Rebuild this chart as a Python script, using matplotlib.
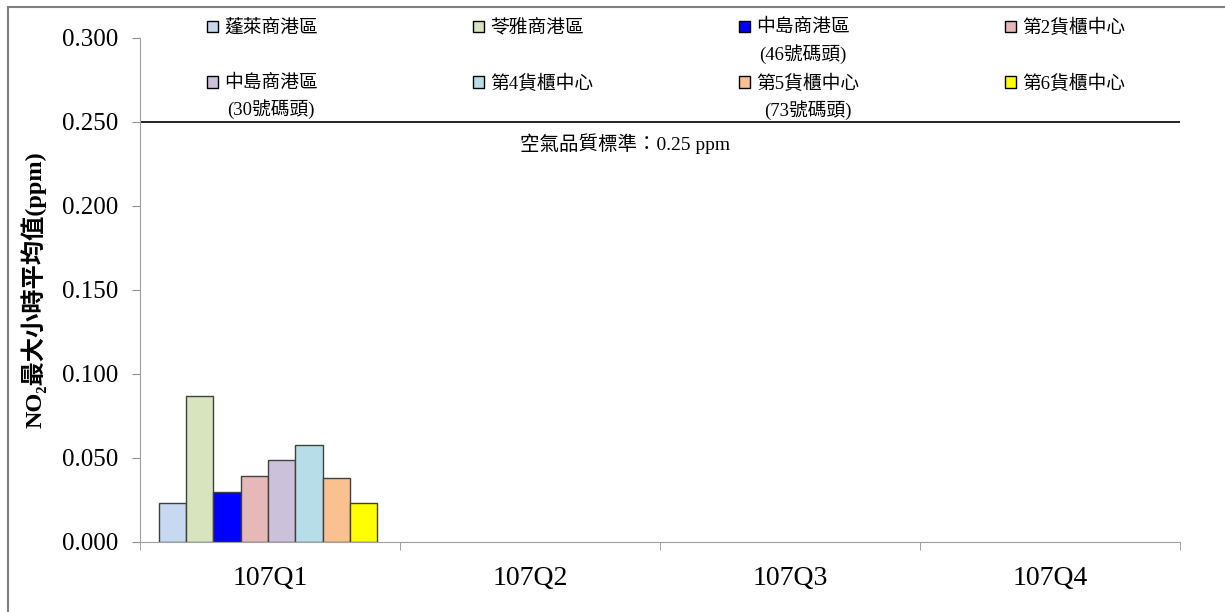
import numpy as np
import matplotlib
matplotlib.use('Agg')
import matplotlib.pyplot as plt
from matplotlib.patches import Rectangle

plt.rcParams['font.family'] = ['Liberation Serif', 'Noto Sans CJK TC', 'DejaVu Serif']

quarters = ['107Q1', '107Q2', '107Q3', '107Q4']
stations = ['蓬萊商港區', '苓雅商港區', '中島商港區\n(46號碼頭)', '第2貨櫃中心',
            '中島商港區\n(30號碼頭)', '第4貨櫃中心', '第5貨櫃中心\n(73號碼頭)', '第6貨櫃中心']
colors = ['#c6d9f0', '#d7e4bd', '#0000ff', '#e6b9b8',
          '#ccc1da', '#b7dee8', '#fac090', '#ffff00']
# only 107Q1 has data
no2_q1 = [0.023, 0.087, 0.030, 0.039, 0.049, 0.058, 0.038, 0.023]
standard = 0.25

W, H = 1225, 612
fig = plt.figure(figsize=(W / 100, H / 100), dpi=100)
ax = fig.add_axes([140 / W, 1 - 542 / H, 1040 / W, 504 / H])

n = len(stations)
bw = 0.105
offsets = (np.arange(n) - (n - 1) / 2) * bw - 0.008
for i in range(n):
    ax.bar(0 + offsets[i], no2_q1[i], width=bw, color=colors[i],
           edgecolor='#404040', linewidth=1.0)

ax.axhline(standard, color='black', linewidth=1.2)
ax.text(1.365, 0.237, '空氣品質標準：0.25 ppm', ha='center', va='center',
        fontsize=14)

ax.set_xlim(-0.5, 3.5)
ax.set_ylim(0, 0.3)
yt = np.arange(0, 0.301, 0.05)
ax.set_yticks(yt)
ax.set_yticklabels([f'{v:.3f}' for v in yt], fontsize=18)
ax.set_xticks(range(4))
ax.set_xticklabels(quarters, fontsize=20)
ax.set_xticks(np.arange(-0.5, 3.6, 1), minor=True)
ax.tick_params(axis='x', which='major', length=0, pad=17)
ax.tick_params(axis='x', which='minor', length=6, color='#909090', direction='out')
ax.tick_params(axis='y', length=6, color='#909090', direction='out', pad=10)
for s in ['top', 'right']:
    ax.spines[s].set_visible(False)
for s in ['left', 'bottom']:
    ax.spines[s].set_color('#a0a0a0')

ax.set_ylabel('NO₂最大小時平均值(ppm)', fontsize=17.5,
              fontweight='bold', labelpad=11)

# legend: 4 columns, 2 rows, swatch aligned with the first text line
def px2ax(xp, yp):
    return (xp - 140) / 1040, (542 - yp) / 504

for i, lab in enumerate(stations):
    col, row = i % 4, i // 4
    xm = 212 + col * 266
    ym = 26.5 + row * 55.5
    x0, y0 = px2ax(xm - 5.5, ym + 5.5)
    ax.add_patch(Rectangle((x0, y0), 11 / 1040, 11 / 504, transform=ax.transAxes,
                           facecolor=colors[i], edgecolor='black', linewidth=1.0,
                           clip_on=False))
    tx, ty = px2ax(xm + 12, ym - 7.5)
    ax.text(tx, ty, lab, transform=ax.transAxes, ha='left', va='top',
            fontsize=13.5, linespacing=1.5, multialignment='center')

fig.patches.append(Rectangle((8 / W, -0.05), 1.2, 1 - 7 / H + 0.05,
                             transform=fig.transFigure, fill=False,
                             edgecolor='#808080', linewidth=1.5))

fig.savefig('out.png', dpi=100)
